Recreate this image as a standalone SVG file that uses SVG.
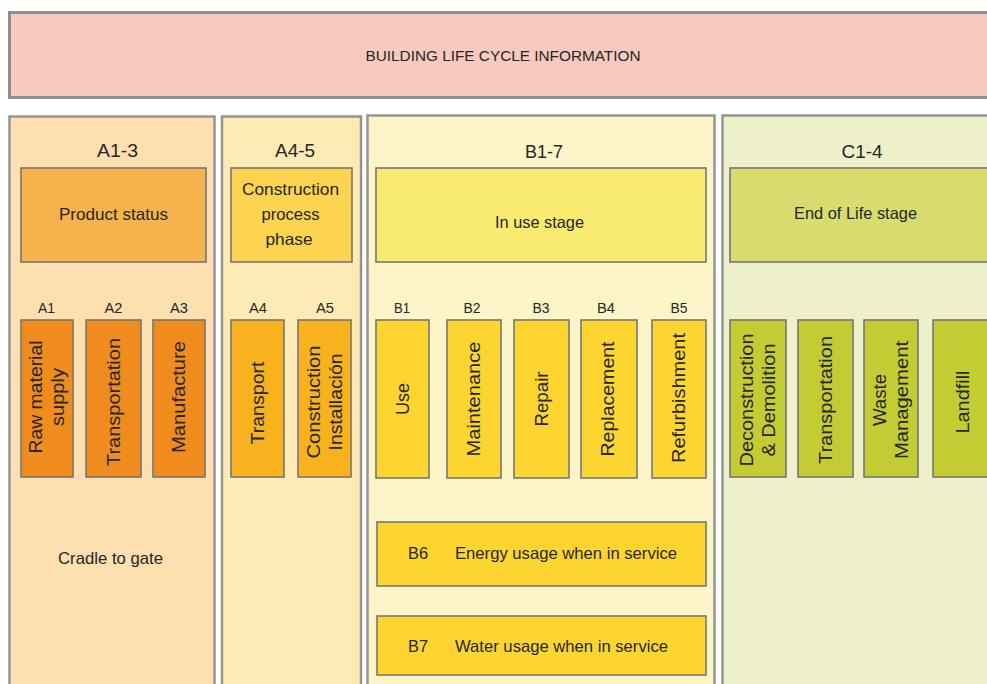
<svg xmlns="http://www.w3.org/2000/svg" width="987" height="684" viewBox="0 0 987 684">
  <style>
    text { font-family: "Liberation Sans", Arial, sans-serif; fill: #262626; text-anchor: middle; dominant-baseline: central; }
    .hdr { font-size: 18px; }
    .lbl { font-size: 16.5px; }
    .tag { font-size: 14.5px; }
    .vt { font-size: 18px; }
    .col { stroke: #949494; stroke-width: 2.5; }
    .box { stroke: #767676; stroke-width: 1.6; }
    .banner { fill: #f8c9bf; stroke: #8e8e8e; stroke-width: 3; }
    .colA13 { fill: #fddfb0; }
    .colA45 { fill: #feeab4; }
    .colB { fill: #fcf5c7; }
    .colC { fill: #eef0c9; }
    .phA13 { fill: #f6b24d; }
    .phA45 { fill: #fdd44f; }
    .phB { fill: #f9eb70; }
    .phC { fill: #d8dc6f; }
    .mA13 { fill: #f08b1d; }
    .mA45 { fill: #f8b21e; }
    .mB { fill: #fdd530; }
    .mC { fill: #c3cc33; }
  </style>

  <rect width="987" height="684" fill="#ffffff"/>

  <!-- title banner -->
  <g id="banner">
    <rect class="banner" x="9.5" y="12.5" width="990" height="85"/>
    <text x="503" y="55" font-size="15.5" textLength="275" lengthAdjust="spacingAndGlyphs">BUILDING LIFE CYCLE INFORMATION</text>
  </g>

  <!-- stage columns -->
  <g id="col-A1-3">
    <rect class="col colA13" x="9.5" y="116.5" width="205" height="580"/>
    <text class="hdr" x="117.5" y="151" textLength="41" lengthAdjust="spacingAndGlyphs">A1-3</text>
  </g>
  <g id="col-A4-5">
    <rect class="col colA45" x="222" y="116.5" width="139" height="580"/>
    <text class="hdr" x="295" y="151" textLength="40" lengthAdjust="spacingAndGlyphs">A4-5</text>
  </g>
  <g id="col-B1-7">
    <rect class="col colB" x="367.5" y="115.5" width="347" height="580"/>
    <text class="hdr" x="544" y="151.5" textLength="38" lengthAdjust="spacingAndGlyphs">B1-7</text>
  </g>
  <g id="col-C1-4">
    <rect class="col colC" x="722.5" y="115.5" width="280" height="580"/>
    <text class="hdr" x="862" y="152" textLength="41" lengthAdjust="spacingAndGlyphs">C1-4</text>
  </g>

  <!-- phase boxes -->
  <g id="phase-product">
    <rect class="box phA13" x="21" y="168" width="185" height="94"/>
    <text class="lbl" x="113.5" y="213.5" textLength="109" lengthAdjust="spacingAndGlyphs">Product status</text>
  </g>
  <g id="phase-construction">
    <rect class="box phA45" x="231" y="168" width="121" height="94"/>
    <text class="lbl" x="290.5" y="189" textLength="97" lengthAdjust="spacingAndGlyphs">Construction</text>
    <text class="lbl" x="290.5" y="214" textLength="58" lengthAdjust="spacingAndGlyphs">process</text>
    <text class="lbl" x="289" y="239" textLength="47" lengthAdjust="spacingAndGlyphs">phase</text>
  </g>
  <g id="phase-use">
    <rect class="box phB" x="376" y="168" width="330" height="94"/>
    <text class="lbl" x="539.5" y="222" textLength="89" lengthAdjust="spacingAndGlyphs">In use stage</text>
  </g>
  <g id="phase-eol">
    <rect class="box phC" x="730" y="168" width="270" height="94"/>
    <text class="lbl" x="855.5" y="213" textLength="123" lengthAdjust="spacingAndGlyphs">End of Life stage</text>
  </g>

  <!-- module codes -->
  <g id="codes">
    <text class="tag" x="46.5" y="307.5" textLength="17" lengthAdjust="spacingAndGlyphs">A1</text>
    <text class="tag" x="113.5" y="307.5" textLength="18" lengthAdjust="spacingAndGlyphs">A2</text>
    <text class="tag" x="179" y="307.5" textLength="18" lengthAdjust="spacingAndGlyphs">A3</text>
    <text class="tag" x="258" y="307.5" textLength="18" lengthAdjust="spacingAndGlyphs">A4</text>
    <text class="tag" x="325" y="307.5" textLength="18" lengthAdjust="spacingAndGlyphs">A5</text>
    <text class="tag" x="402" y="308" textLength="16" lengthAdjust="spacingAndGlyphs">B1</text>
    <text class="tag" x="472" y="308" textLength="17" lengthAdjust="spacingAndGlyphs">B2</text>
    <text class="tag" x="541" y="308" textLength="17" lengthAdjust="spacingAndGlyphs">B3</text>
    <text class="tag" x="606" y="308" textLength="18" lengthAdjust="spacingAndGlyphs">B4</text>
    <text class="tag" x="679" y="308" textLength="17" lengthAdjust="spacingAndGlyphs">B5</text>
  </g>

  <!-- A1-A3 modules -->
  <g id="A1">
    <rect class="box mA13" x="21" y="320" width="52" height="157"/>
    <text class="vt" transform="translate(36,397) rotate(-90)" textLength="113" lengthAdjust="spacingAndGlyphs">Raw material</text>
    <text class="vt" transform="translate(58,397) rotate(-90)" textLength="58" lengthAdjust="spacingAndGlyphs">supply</text>
  </g>
  <g id="A2">
    <rect class="box mA13" x="86" y="320" width="55" height="157"/>
    <text class="vt" transform="translate(113.5,402) rotate(-90)" textLength="128" lengthAdjust="spacingAndGlyphs">Transportation</text>
  </g>
  <g id="A3">
    <rect class="box mA13" x="153" y="320" width="52" height="157"/>
    <text class="vt" transform="translate(179,397) rotate(-90)" textLength="112" lengthAdjust="spacingAndGlyphs">Manufacture</text>
  </g>

  <!-- A4-A5 modules -->
  <g id="A4">
    <rect class="box mA45" x="231" y="320" width="53" height="157"/>
    <text class="vt" transform="translate(257.5,403) rotate(-90)" textLength="83" lengthAdjust="spacingAndGlyphs">Transport</text>
  </g>
  <g id="A5">
    <rect class="box mA45" x="298" y="320" width="53" height="157"/>
    <text class="vt" transform="translate(313.5,402) rotate(-90)" textLength="113" lengthAdjust="spacingAndGlyphs">Construction</text>
    <text class="vt" transform="translate(335.5,402) rotate(-90)" textLength="97" lengthAdjust="spacingAndGlyphs">Installación</text>
  </g>

  <!-- B1-B5 modules -->
  <g id="B1">
    <rect class="box mB" x="376" y="320" width="53" height="158"/>
    <text class="vt" transform="translate(402.5,399) rotate(-90)" textLength="32" lengthAdjust="spacingAndGlyphs">Use</text>
  </g>
  <g id="B2">
    <rect class="box mB" x="447" y="320" width="54" height="158"/>
    <text class="vt" transform="translate(474,399) rotate(-90)" textLength="115" lengthAdjust="spacingAndGlyphs">Maintenance</text>
  </g>
  <g id="B3">
    <rect class="box mB" x="514" y="320" width="55" height="158"/>
    <text class="vt" transform="translate(541.5,399) rotate(-90)" textLength="55" lengthAdjust="spacingAndGlyphs">Repair</text>
  </g>
  <g id="B4">
    <rect class="box mB" x="581" y="320" width="56" height="158"/>
    <text class="vt" transform="translate(608,399) rotate(-90)" textLength="115" lengthAdjust="spacingAndGlyphs">Replacement</text>
  </g>
  <g id="B5">
    <rect class="box mB" x="652" y="320" width="54" height="158"/>
    <text class="vt" transform="translate(679,398) rotate(-90)" textLength="130" lengthAdjust="spacingAndGlyphs">Refurbishment</text>
  </g>

  <!-- B6-B7 modules -->
  <g id="B6">
    <rect class="box mB" x="377" y="522" width="329" height="64"/>
    <text class="lbl" x="418" y="553" textLength="20" lengthAdjust="spacingAndGlyphs">B6</text>
    <text class="lbl" x="566" y="553" textLength="222" lengthAdjust="spacingAndGlyphs">Energy usage when in service</text>
  </g>
  <g id="B7">
    <rect class="box mB" x="377" y="616" width="329" height="59"/>
    <text class="lbl" x="418" y="646" textLength="20" lengthAdjust="spacingAndGlyphs">B7</text>
    <text class="lbl" x="561.5" y="646" textLength="213" lengthAdjust="spacingAndGlyphs">Water usage when in service</text>
  </g>

  <!-- C1-C4 modules -->
  <g id="C1">
    <rect class="box mC" x="730" y="320" width="56" height="157"/>
    <text class="vt" transform="translate(747,400) rotate(-90)" textLength="133" lengthAdjust="spacingAndGlyphs">Deconstruction</text>
    <text class="vt" transform="translate(769,400) rotate(-90)" textLength="113" lengthAdjust="spacingAndGlyphs">&amp; Demolition</text>
  </g>
  <g id="C2">
    <rect class="box mC" x="798" y="320" width="55" height="157"/>
    <text class="vt" transform="translate(825.5,400) rotate(-90)" textLength="128" lengthAdjust="spacingAndGlyphs">Transportation</text>
  </g>
  <g id="C3">
    <rect class="box mC" x="864" y="320" width="54" height="157"/>
    <text class="vt" transform="translate(880,400) rotate(-90)" textLength="52" lengthAdjust="spacingAndGlyphs">Waste</text>
    <text class="vt" transform="translate(902,400) rotate(-90)" textLength="118" lengthAdjust="spacingAndGlyphs">Management</text>
  </g>
  <g id="C4">
    <rect class="box mC" x="933" y="320" width="62" height="157"/>
    <text class="vt" transform="translate(963,402) rotate(-90)" textLength="63" lengthAdjust="spacingAndGlyphs">Landfill</text>
  </g>

  <!-- scope note -->
  <g id="cradle-to-gate">
    <text class="lbl" x="110.5" y="557.5" textLength="105" lengthAdjust="spacingAndGlyphs">Cradle to gate</text>
  </g>
</svg>
